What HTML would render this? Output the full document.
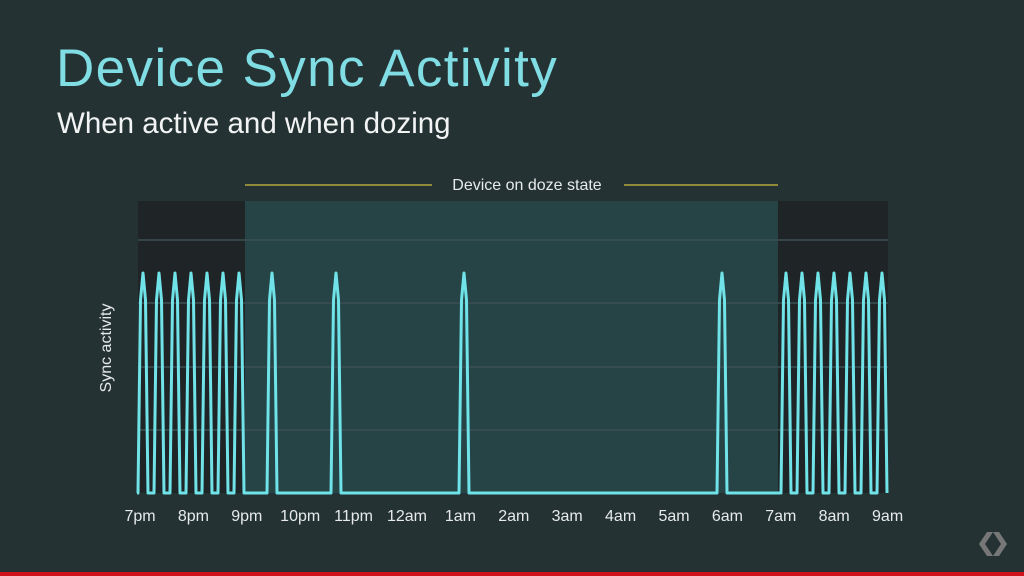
<!DOCTYPE html>
<html><head><meta charset="utf-8"><style>
html,body{margin:0;padding:0;width:1024px;height:576px;overflow:hidden;background:#253234;}
body{position:relative;font-family:"Liberation Sans",sans-serif;}
.t{position:absolute;left:56px;top:38px;font-size:53px;color:#7fdde3;font-weight:300;letter-spacing:1.4px;white-space:nowrap;}
.s{position:absolute;left:57px;top:107px;font-size:29.5px;color:#f2f4f4;white-space:nowrap;}
</style></head><body>
<div class="t">Device Sync Activity</div>
<div class="s">When active and when dozing</div>
<svg width="1024" height="576" style="position:absolute;left:0;top:0">
<rect x="138" y="201" width="107" height="292" fill="#1f2527"/>
<rect x="778" y="201" width="110" height="292" fill="#1f2527"/>
<rect x="245" y="201" width="533" height="292" fill="#264346"/>
<g stroke="#3a5053" stroke-width="1.5">
<line x1="138" y1="240" x2="888" y2="240"/><line x1="138" y1="303" x2="888" y2="303"/>
<line x1="138" y1="367" x2="888" y2="367"/><line x1="138" y1="430" x2="888" y2="430"/></g>
<g stroke="#b3a63a" stroke-width="1.5"><line x1="245" y1="185" x2="432" y2="185"/><line x1="624" y1="185" x2="778" y2="185"/></g>
<text x="527" y="190" fill="#e6eaea" font-size="16" text-anchor="middle" font-family="Liberation Sans">Device on doze state</text>
<text transform="translate(111,348) rotate(-90)" fill="#e6eaea" font-size="16" text-anchor="middle" font-family="Liberation Sans">Sync activity</text>
<path id="w" fill="none" stroke="#6fe3e8" stroke-width="3" stroke-linejoin="round"/>
<g fill="#e6eaea" font-size="16" text-anchor="middle" font-family="Liberation Sans" id="lb"></g>
<g fill="#777" transform="translate(993,544)"><polygon points="-14,0 -6,-12 0,-12 -8,0 0,12 -6,12"/><polygon points="14,0 6,-12 0,-12 8,0 0,12 6,12"/></g>
<rect x="0" y="572" width="1024" height="4" fill="#d0121b"/>
</svg>
<script>
var peaks=[143,159,175,191,207,223,239,272,336,464,722,786,802,818,834,850,866,882];
var b=493,t=273,d="M137 "+b;
peaks.forEach(function(p){d+=" L"+(p-5)+" "+b+" L"+(p-2.5)+" 300 L"+p+" "+t+" L"+(p+2.5)+" 300 L"+(p+5)+" "+b;});
d+=" L887 "+b;
document.getElementById("w").setAttribute("d",d);
var L=["7pm","8pm","9pm","10pm","11pm","12am","1am","2am","3am","4am","5am","6am","7am","8am","9am"],h="";
L.forEach(function(s,i){h+='<text x="'+(140+i*53.4)+'" y="521">'+s+'</text>';});
document.getElementById("lb").innerHTML=h;
</script>
</body></html>
